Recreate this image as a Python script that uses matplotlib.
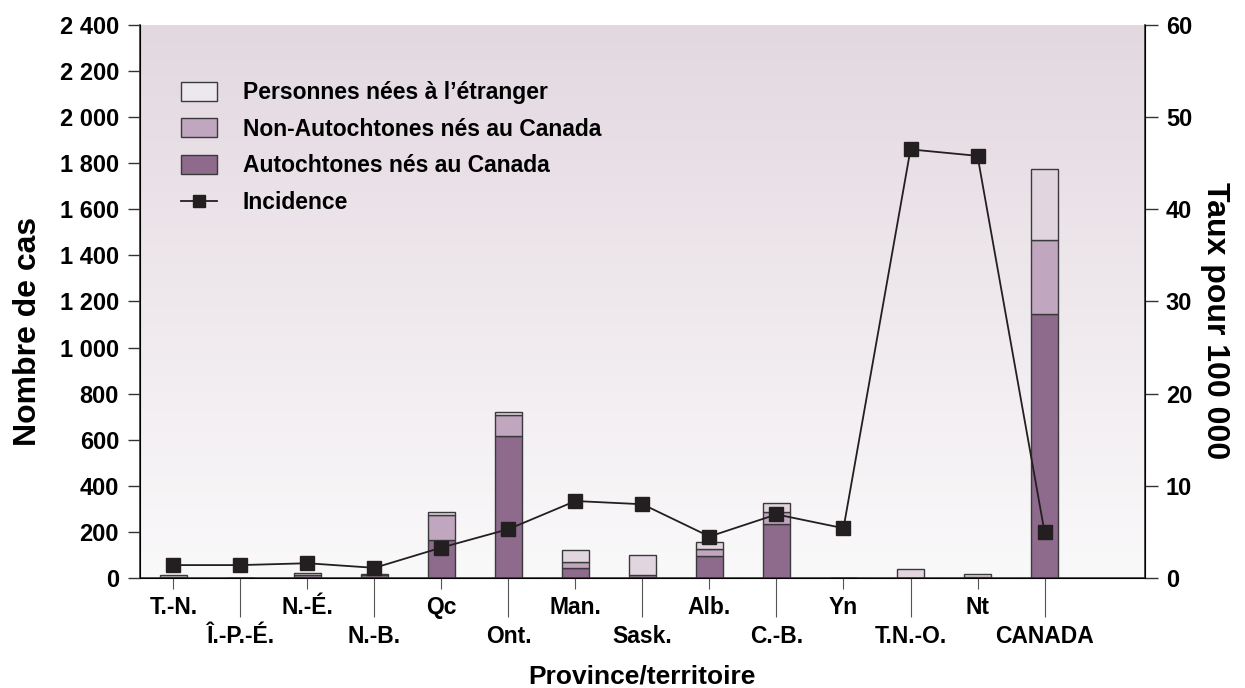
import numpy as np
import matplotlib
matplotlib.use('Agg')
import matplotlib.pyplot as plt
from matplotlib.patches import Patch
from matplotlib.lines import Line2D
from matplotlib.ticker import FuncFormatter
from matplotlib.colors import LinearSegmentedColormap

plt.rcParams['font.family'] = ['Liberation Sans', 'DejaVu Sans']
plt.rcParams['font.weight'] = 'bold'

provinces = ['T.-N.', 'Î.-P.-É.', 'N.-É.', 'N.-B.', 'Qc', 'Ont.', 'Man.', 'Sask.',
             'Alb.', 'C.-B.', 'Yn', 'T.N.-O.', 'Nt', 'CANADA']
autochtones = [2, 0, 3, 5, 165, 615, 45, 5, 95, 234, 0, 0, 0, 1145]
non_autochtones = [3, 0, 10, 8, 108, 92, 24, 8, 30, 54, 0, 0, 3, 322]
etrangers = [8, 0, 10, 3, 12, 15, 51, 87, 33, 36, 0, 39, 14, 310]
incidence = [1.4, 1.4, 1.6, 1.1, 3.3, 5.3, 8.35, 8.0, 4.5, 6.9, 5.4, 46.5, 45.8, 5.0]

c_aut = '#8E6A8C'
c_non = '#C0A6BE'
c_etr = '#E1D6DF'
edge = '#3a3a3a'

fig = plt.figure(figsize=(12.45, 6.88), dpi=100)
ax = fig.add_axes([0.1124, 0.1599, 0.8073, 0.8038])

x = np.arange(len(provinces))
w = 0.4
a = np.array(autochtones)
n = np.array(non_autochtones)
e = np.array(etrangers)

# gradient background
cmap = LinearSegmentedColormap.from_list('bg', ['#FAF9FA', '#E3D8E0'])
grad = np.linspace(0, 1, 256).reshape(-1, 1)
ax.imshow(grad, aspect='auto', cmap=cmap, origin='lower',
          extent=[-0.5, 14.5, 0, 2400], zorder=0)

ax.bar(x, a, w, color=c_aut, edgecolor=edge, linewidth=1, zorder=2)
ax.bar(x, n, w, bottom=a, color=c_non, edgecolor=edge, linewidth=1, zorder=2)
ax.bar(x, e, w, bottom=a + n, color=c_etr, edgecolor=edge, linewidth=1, zorder=2)

ax.set_xlim(-0.5, 14.5)
ax.set_ylim(0, 2400)
ax.set_yticks(np.arange(0, 2401, 200))
ax.yaxis.set_major_formatter(FuncFormatter(lambda v, p: f'{int(v):,}'.replace(',', ' ')))
ax.tick_params(axis='y', labelsize=17, length=9, width=1, color='#333', pad=6)
ax.spines['top'].set_visible(False)
for s in ['left', 'right', 'bottom']:
    ax.spines[s].set_color('#333')
    ax.spines[s].set_linewidth(1.2)

even = x[::2]
odd = x[1::2]
ax.set_xticks(even, [provinces[i] for i in even])
ax.set_xticks(odd, [provinces[i] for i in odd], minor=True)
ax.tick_params(axis='x', which='major', length=8, width=0.8, color='#555', labelsize=16.5, pad=5)
ax.tick_params(axis='x', which='minor', length=28, width=0.8, color='#555', labelsize=16.5, pad=6)

ax.set_ylabel('Nombre de cas', fontsize=23, fontweight='bold', va='center')
ax.yaxis.set_label_coords(-0.111, 0.445)
ax.set_xlabel('Province/territoire', fontsize=19, fontweight='bold', va='center')
ax.xaxis.set_label_coords(0.4995, -0.179)

ax2 = ax.twinx()
ax2.set_ylim(0, 60)
ax2.set_yticks(np.arange(0, 61, 10))
ax2.tick_params(axis='y', labelsize=17, length=9, width=1, color='#333', pad=6)
ax2.spines['top'].set_visible(False)
ax2.plot(x, incidence, color='#231F20', linewidth=1.3, marker='s', markersize=10,
         markerfacecolor='#231F20', markeredgecolor='#231F20', zorder=5)
ax2.set_ylabel('Taux pour 100 000', fontsize=23, fontweight='bold', rotation=270, va='center')
ax2.yaxis.set_label_coords(1.0697, 0.465)

handles = [
    Patch(facecolor='#EDE8EE', edgecolor=edge, label='Personnes nées à l\u2019étranger'),
    Patch(facecolor=c_non, edgecolor=edge, label='Non-Autochtones nés au Canada'),
    Patch(facecolor=c_aut, edgecolor=edge, label='Autochtones nés au Canada'),
    Line2D([0], [0], color='#231F20', marker='s', markersize=9, linewidth=1.3, label='Incidence'),
]
leg = ax2.legend(handles=handles, loc='upper left', bbox_to_anchor=(0.02, 0.936),
                 frameon=False, fontsize=16.5, handlelength=1.6, handleheight=0.9,
                 handletextpad=1.1, labelspacing=0.6)

fig.savefig('out.png', dpi=100)
